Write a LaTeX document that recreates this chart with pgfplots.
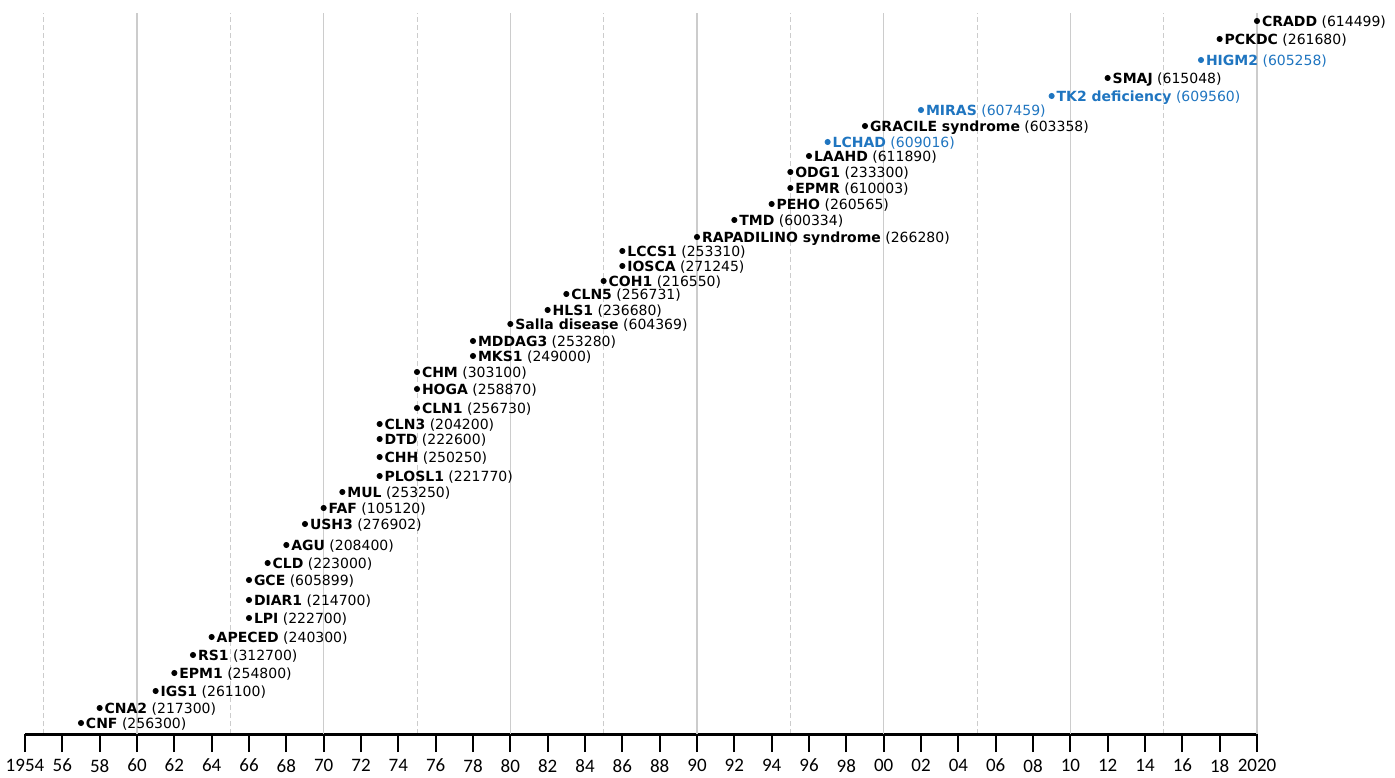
\documentclass[border=0pt]{standalone}
\usepackage{fontspec}
\setmainfont{DejaVu Sans}
\newfontfamily\tickfont{Carlito}
\usepackage{pgfplots}
\usepackage{pgfplotstable}
\pgfplotsset{compat=1.18}
\definecolor{hiblue}{RGB}{31,117,192}
\definecolor{gridc}{RGB}{204,204,204}

\pgfplotstableread[col sep=comma]{
year,y,label
1957,11,{\textbf{CNF} (256300)}
1958,26,{\textbf{CNA2} (217300)}
1961,43,{\textbf{IGS1} (261100)}
1962,61,{\textbf{EPM1} (254800)}
1963,79,{\textbf{RS1} (312700)}
1964,97,{\textbf{APECED} (240300)}
1966,116,{\textbf{LPI} (222700)}
1966,134,{\textbf{DIAR1} (214700)}
1966,154,{\textbf{GCE} (605899)}
1967,171,{\textbf{CLD} (223000)}
1968,189,{\textbf{AGU} (208400)}
1969,210,{\textbf{USH3} (276902)}
1970,226,{\textbf{FAF} (105120)}
1971,242,{\textbf{MUL} (253250)}
1973,258,{\textbf{PLOSL1} (221770)}
1973,277,{\textbf{CHH} (250250)}
1973,295,{\textbf{DTD} (222600)}
1973,310,{\textbf{CLN3} (204200)}
1975,326,{\textbf{CLN1} (256730)}
1975,345,{\textbf{HOGA} (258870)}
1975,362,{\textbf{CHM} (303100)}
1978,378,{\textbf{MKS1} (249000)}
1978,393,{\textbf{MDDAG3} (253280)}
1980,410,{\textbf{Salla disease} (604369)}
1982,424,{\textbf{HLS1} (236680)}
1983,440,{\textbf{CLN5} (256731)}
1985,453,{\textbf{COH1} (216550)}
1986,468,{\textbf{IOSCA} (271245)}
1986,483,{\textbf{LCCS1} (253310)}
1990,497,{\textbf{RAPADILINO syndrome} (266280)}
1992,514,{\textbf{TMD} (600334)}
1994,530,{\textbf{PEHO} (260565)}
1995,546,{\textbf{EPMR} (610003)}
1995,562,{\textbf{ODG1} (233300)}
1996,578,{\textbf{LAAHD} (611890)}
1999,608,{\textbf{GRACILE syndrome} (603358)}
2012,656,{\textbf{SMAJ} (615048)}
2018,695,{\textbf{PCKDC} (261680)}
2020,713,{\textbf{CRADD} (614499)}
}\blackdata

\pgfplotstableread[col sep=comma]{
year,y,label
1997,592,{\textbf{LCHAD} (609016)}
2002,624,{\textbf{MIRAS} (607459)}
2009,638,{\textbf{TK2 deficiency} (609560)}
2017,674,{\textbf{HIGM2} (605258)}
}\bluedata

\begin{document}
\begin{tikzpicture}
\begin{axis}[
  scale only axis, width=616pt, height=360.5pt,
  xmin=1954, xmax=2020, ymin=0, ymax=721,
  axis x line=bottom, axis y line=none,
  x axis line style={-, line width=1.5pt, black},
  xtick={1954,1956,...,2020},
  xticklabels={1954,56,58,60,62,64,66,68,70,72,74,76,78,80,82,84,86,88,90,92,94,96,98,00,02,04,06,08,10,12,14,16,18,2020},
  tick align=outside,
  major tick length=9pt,
  xtick style={line width=1pt, black},
  xticklabel style={font=\tickfont\fontsize{9.5}{10}\selectfont, text=black},
  minor xtick={1955,1965,...,2015},
  minor tick length=0pt,
  xminorgrids=true,
  minor grid style={gridc, line width=0.5pt, dash pattern=on 2.5pt off 1.5pt},
  extra x ticks={1960,1970,...,2020},
  extra x tick labels={},
  extra x tick style={grid=major, major tick length=0pt, major grid style={gridc, line width=0.6pt}},
  clip=false,
  nodes near coords,
  point meta=explicit symbolic,
  every node near coord/.append style={anchor=base west, xshift=2.3pt, yshift=-2.55pt, inner sep=0pt, font=\fontsize{7}{8}\selectfont},
]
\coordinate (SW) at (rel axis cs:0,0);
\coordinate (NE) at (rel axis cs:1,1);
\addplot[only marks, mark=*, mark size=1.3pt, black, every node near coord/.append style={text=black}]
  table[x=year, y=y, meta=label] {\blackdata};
\addplot[only marks, mark=*, mark size=1.3pt, hiblue, every node near coord/.append style={text=hiblue}]
  table[x=year, y=y, meta=label] {\bluedata};
\end{axis}
\pgfresetboundingbox
\path ([xshift=-12.5pt,yshift=-21.5pt]SW) rectangle ([xshift=69pt,yshift=6.5pt]NE);
\end{tikzpicture}
\end{document}
